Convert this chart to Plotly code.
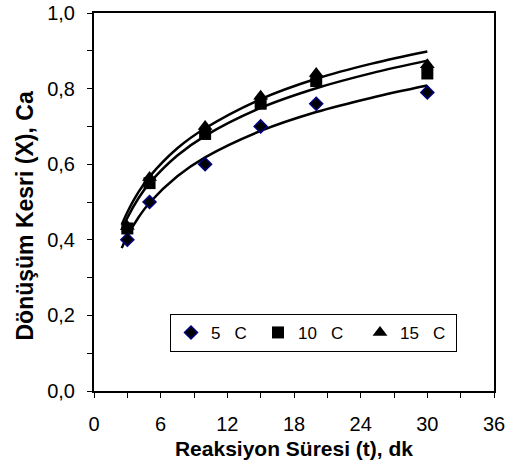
import plotly.graph_objects as go

# measured data (reaction time, min) and conversion fraction X
t_data = [3, 5, 10, 15, 20, 30]
x_5C = [0.40, 0.50, 0.60, 0.70, 0.76, 0.79]
x_10C = [0.43, 0.55, 0.68, 0.76, 0.82, 0.84]
x_15C = [0.435, 0.565, 0.70, 0.78, 0.84, 0.863]

# fitted curves
t_curve = [2.5, 3, 4, 5, 7.5, 10, 15, 20, 25, 30]
fit_5C = [0.378, 0.41, 0.459, 0.498, 0.568, 0.618, 0.688, 0.738, 0.776, 0.808]
fit_10C = [0.425, 0.458, 0.51, 0.55, 0.623, 0.675, 0.749, 0.801, 0.841, 0.874]
fit_15C = [0.44, 0.473, 0.526, 0.567, 0.642, 0.695, 0.772, 0.826, 0.866, 0.898]

labels = ["5\u00a0\u00a0 C", "10\u00a0\u00a0 C", "15\u00a0\u00a0 C"]

FONT = "Liberation Sans, Arial, sans-serif"

fig = go.Figure()
for fy in (fit_5C, fit_10C, fit_15C):
    fig.add_trace(go.Scatter(x=t_curve, y=fy, mode="lines", showlegend=False,
                             line=dict(color="black", width=2.5, shape="spline"),
                             hoverinfo="skip"))

fig.add_trace(go.Scatter(x=t_data, y=x_5C, mode="markers", name=labels[0], legendwidth=42,
                         marker=dict(symbol="diamond", size=10, color="black",
                                     line=dict(color="#000080", width=1.5))))
fig.add_trace(go.Scatter(x=t_data, y=x_10C, mode="markers", name=labels[1], legendwidth=57,
                         marker=dict(symbol="square", size=12, color="black",
                                     line=dict(width=0))))
fig.add_trace(go.Scatter(x=t_data, y=x_15C, mode="markers", name=labels[2], legendwidth=51,
                         marker=dict(symbol="triangle-up", size=13, color="black",
                                     line=dict(width=0))))

fig.update_layout(
    width=517, height=464,
    margin=dict(l=94, r=23, t=13, b=73),
    paper_bgcolor="white", plot_bgcolor="white",
    separators=", ",
    font=dict(family=FONT, color="black", size=18),
    showlegend=True,
    legend=dict(orientation="h", x=0.19, y=0.204, xanchor="left", yanchor="top",
                bordercolor="black", borderwidth=1, bgcolor="white",
                font=dict(size=17, family=FONT), itemwidth=30,
                tracegroupgap=0),
    annotations=[dict(text="<b>Dönüşüm Kesri (X), Ca</b>", textangle=-90,
                      xref="paper", yref="paper", x=-0.1725, y=0.4616,
                      xanchor="center", yanchor="middle", showarrow=False,
                      font=dict(size=23, family=FONT, color="black"))],
)
fig.update_xaxes(range=[0, 36], dtick=6, tick0=0, ticks="outside", ticklen=5,
                 tickwidth=1, tickcolor="black", showline=True, linecolor="black",
                 linewidth=2, mirror=True, showgrid=False, zeroline=False,
                 tickfont=dict(size=20), ticklabelstandoff=9, automargin=False,
                 minor=dict(dtick=3, ticks="outside", ticklen=5, tickcolor="black", tickwidth=1),
                 title=dict(text="<b>Reaksiyon Süresi (t), dk</b>", font=dict(size=21), standoff=7))
fig.update_yaxes(range=[0, 1.0], dtick=0.2, tick0=0, tickformat=".1f", ticks="outside",
                 ticklen=5, tickwidth=1, tickcolor="black", showline=True, linecolor="black",
                 linewidth=2, mirror=True, showgrid=False, zeroline=False,
                 tickfont=dict(size=20), ticklabelstandoff=8, automargin=False,
                 minor=dict(dtick=0.1, ticks="outside", ticklen=5, tickcolor="black", tickwidth=1))

fig.write_html("out.html")
